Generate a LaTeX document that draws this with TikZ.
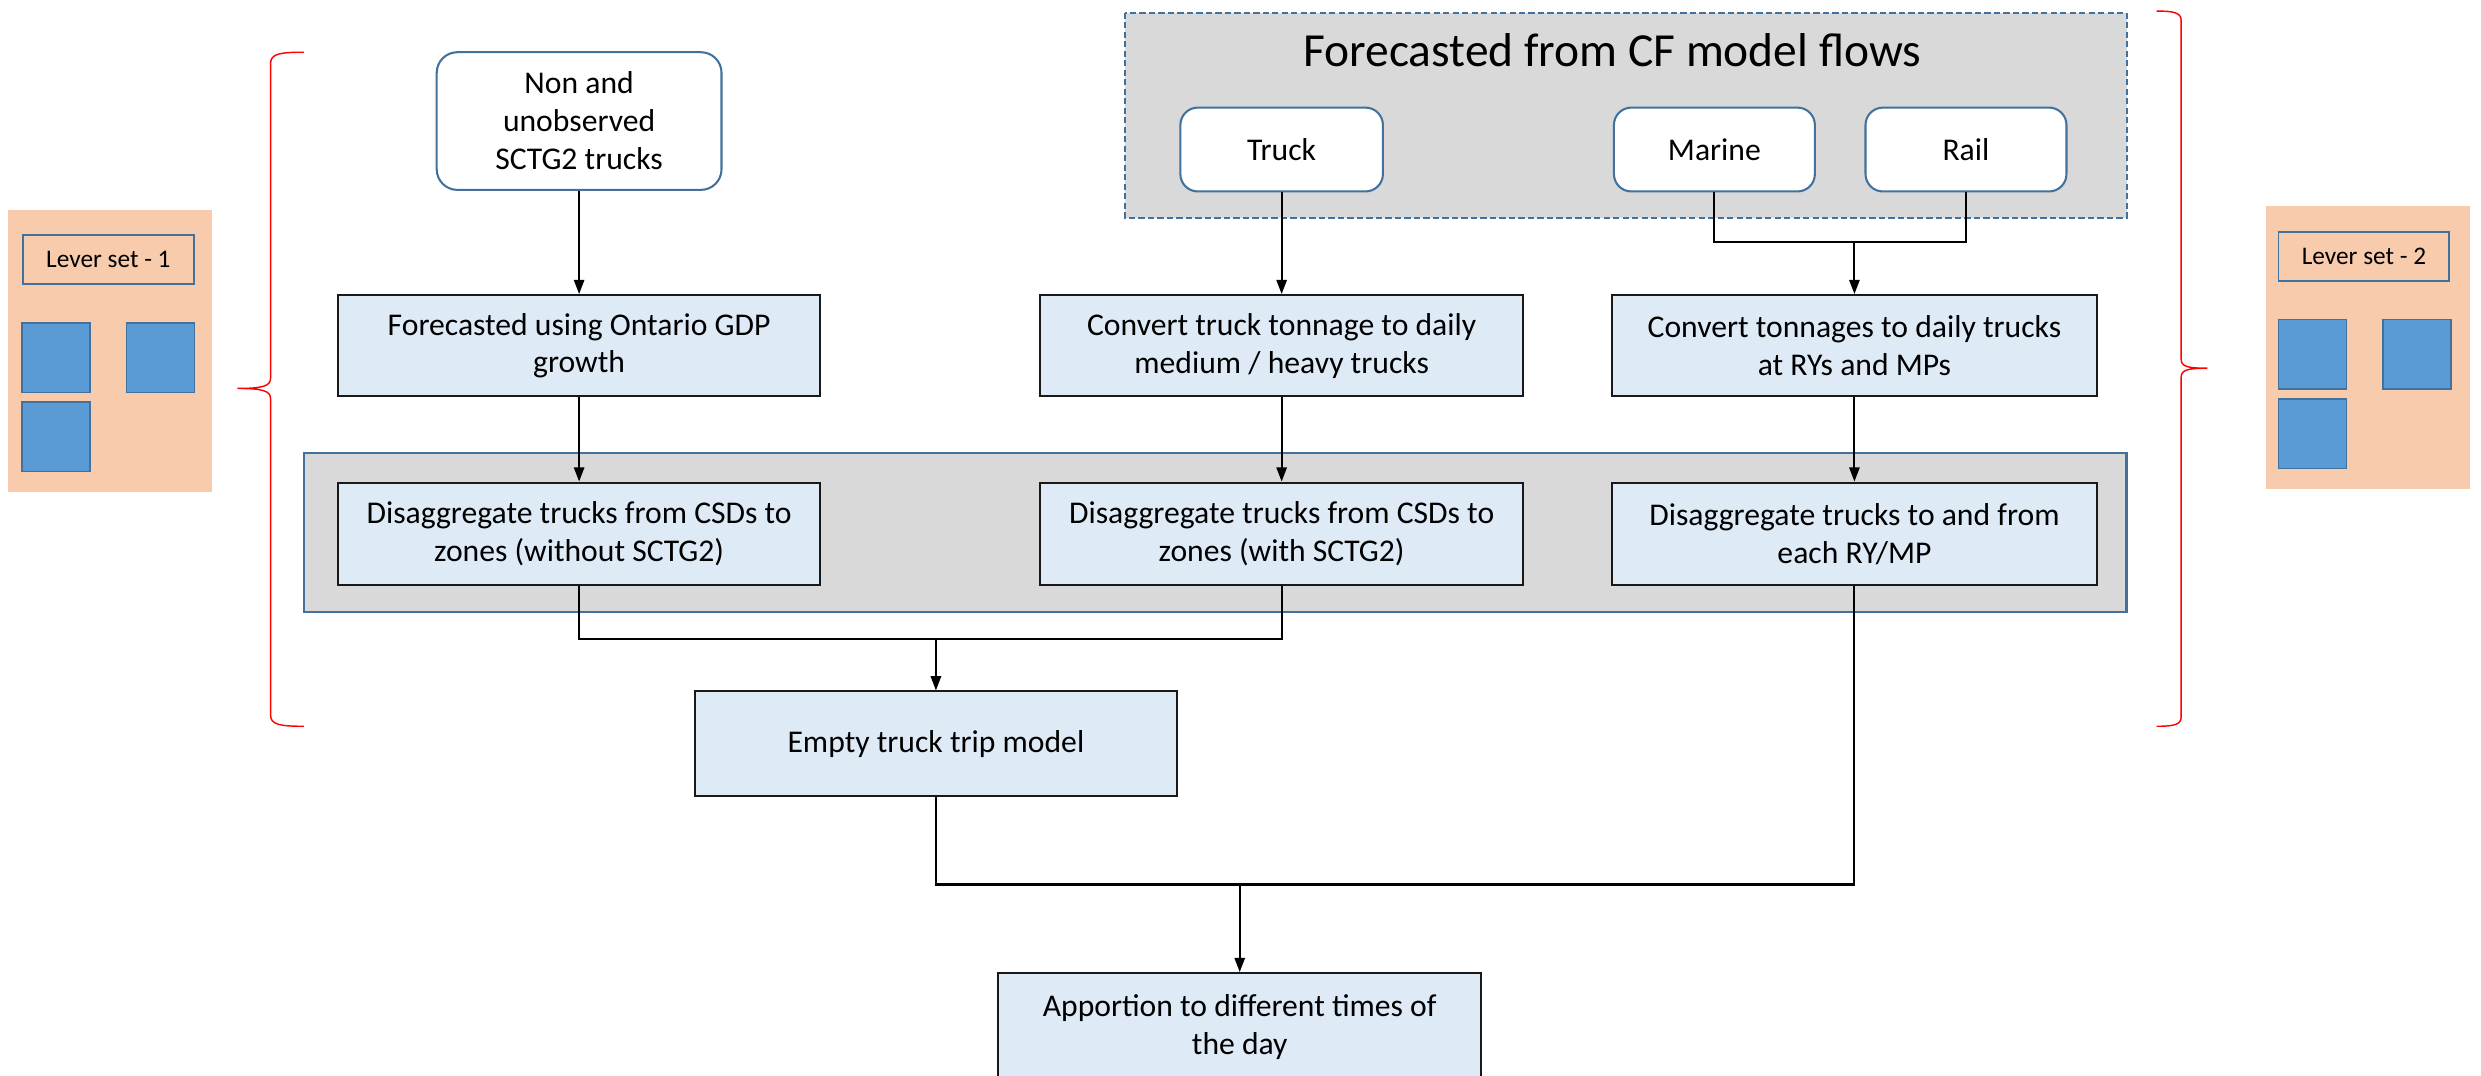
\documentclass[tikz,border=0pt]{standalone}
\usepackage{fontspec}
\setmainfont{Carlito}
\usetikzlibrary{arrows.meta}
\definecolor{boxblue}{HTML}{DEEBF7}
\definecolor{panelgray}{HTML}{D9D9D9}
\definecolor{leverorange}{HTML}{F8CBAD}
\definecolor{sqblue}{HTML}{5B9BD5}
\definecolor{bordblue}{HTML}{41719C}
\begin{document}
\begin{tikzpicture}[x=1pt,y=-1pt,
  proc/.style={draw=black!90, fill=boxblue, line width=1.3pt, inner sep=0pt,
    minimum width=305pt, minimum height=65pt, align=center,
    font=\fontsize{20}{24}\selectfont},
  src/.style={draw=bordblue, fill=white, line width=1.3pt, rounded corners=11pt,
    inner sep=0pt, minimum width=128pt, minimum height=53pt, align=center,
    font=\fontsize{20}{24}\selectfont},
  conn/.style={draw=black, line width=1.3pt},
  arr/.style={conn, -{Triangle[length=9pt,width=6.5pt]}},
  brace/.style={draw=red, line width=0.9pt},
  sq/.style={draw=bordblue, fill=sqblue, line width=1pt},
  lever/.style={draw=bordblue, fill=leverorange, line width=1.2pt, inner sep=0pt,
    minimum width=108pt, minimum height=31pt, font=\fontsize{16}{19}\selectfont}
]
\useasboundingbox (0,0) rectangle (1568,680);
\clip (0,0) rectangle (1568,680);

% lever panel 1
\fill[leverorange] (5,133) rectangle (134,311);
\node[lever] (lev1) at (68.5,164) {Lever set - 1};
\draw[sq] (14,204) rectangle (57,248);
\draw[sq] (80,204) rectangle (123,248);
\draw[sq] (14,254) rectangle (57,298);

% lever panel 2
\fill[leverorange] (1432,130) rectangle (1561,309);
\node[lever] (lev2) at (1494,162) {Lever set - 2};
\draw[sq] (1440,202) rectangle (1483,246);
\draw[sq] (1506,202) rectangle (1549,246);
\draw[sq] (1440,252) rectangle (1483,296);

% braces
\draw[brace] (192,33) .. controls (177,33) and (171,34) .. (171,40) -- (171,239)
  .. controls (171,244) and (166,245.5) .. (150,245.5)
  .. controls (166,245.5) and (171,247) .. (171,252) -- (171,452)
  .. controls (171,458) and (177,459) .. (192,459);
\draw[brace] (1363,7) .. controls (1374,7) and (1378.5,8) .. (1378.5,13) -- (1378.5,227)
  .. controls (1378.5,231.5) and (1382,232.7) .. (1395,232.7)
  .. controls (1382,232.7) and (1378.5,234) .. (1378.5,238.5) -- (1378.5,453)
  .. controls (1378.5,458) and (1374,459) .. (1363,459);

% dashed panel
\draw[bordblue, fill=panelgray, line width=1.2pt, dash pattern=on 4pt off 2pt]
  (711,8) rectangle (1344,137.5);
\node[font=\fontsize{30}{36}\selectfont, inner sep=0pt] (title) at (1019,32) {Forecasted from CF model flows};

% gray panel
\draw[bordblue, fill=panelgray, line width=1.4pt] (192,286.5) rectangle (1344,387);

% source nodes
\node[src, minimum width=180pt, minimum height=87pt, rounded corners=13pt] (non) at (366,76.5) {Non and\\unobserved\\SCTG2 trucks};
\node[src] (truck) at (810,94.5) {Truck};
\node[src, minimum width=127pt] (marine) at (1083.5,94.5) {Marine};
\node[src, minimum width=127pt] (rail) at (1242.5,94.5) {Rail};

% row 2
\node[proc, minimum height=64pt] (a2) at (366,218.5) {Forecasted using Ontario GDP\\growth};
\node[proc, minimum height=64pt] (b2) at (810,218.5) {Convert truck tonnage to daily\\medium / heavy trucks};
\node[proc, minimum height=64pt, minimum width=306pt] (c2) at (1172,218.5) {Convert tonnages to daily trucks\\at RYs and MPs};

% row 3
\node[proc] (a3) at (366,337.5) {Disaggregate trucks from CSDs to\\zones (without SCTG2)};
\node[proc] (b3) at (810,337.5) {Disaggregate trucks from CSDs to\\zones (with SCTG2)};
\node[proc, minimum width=306pt] (c3) at (1172,337.5) {Disaggregate trucks to and from\\each RY/MP};

% empty and apportion
\node[proc, minimum height=66pt] (empty) at (591.5,470) {Empty truck trip model};
\node[proc, minimum height=68pt] (app) at (783.5,649) {Apportion to different times of\\the day};

% connectors
\draw[arr] (non.south) -- (a2.north);
\draw[arr] (truck.south) -- (b2.north);
\coordinate (mj) at (1172,153);
\draw[conn] (marine.south) |- (mj) -| (rail.south);
\draw[arr] (mj) -- (c2.north);
\draw[arr] (a2.south) -- (a3.north);
\draw[arr] (b2.south) -- (b3.north);
\draw[arr] (c2.south) -- (c3.north);
\coordinate (j1) at (591.5,404);
\draw[conn] (a3.south) |- (j1) -| (b3.south);
\draw[arr] (j1) -- (empty.north);
\coordinate (j2) at (783.5,559);
\draw[conn] (empty.south) |- (j2) -| (c3.south);
\draw[arr] (j2) -- (app.north);
\end{tikzpicture}
\end{document}
